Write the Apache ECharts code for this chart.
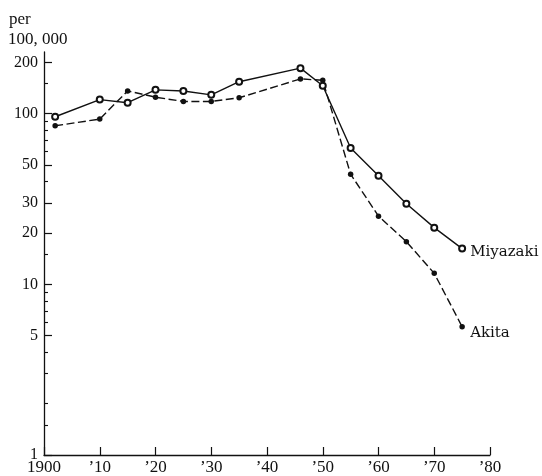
<!DOCTYPE html>
<html>
<head>
<meta charset="utf-8">
<script src="https://cdn.jsdelivr.net/npm/echarts@6/dist/echarts.min.js"></script>
<style>
  html, body { margin: 0; padding: 0; background: #fff; }
  #chart { width: 542px; height: 476px; }
</style>
</head>
<body>
<div id="chart"></div>
<script>
// Survey years (x) and rates per 100,000 for the two prefectures
const years    = [1902, 1910, 1915, 1920, 1925, 1930, 1935, 1946, 1950, 1955, 1960, 1965, 1970, 1975];
const miyazaki = [96, 121, 116, 138, 136, 129, 154, 185, 146, 63, 43.3, 29.7, 21.5, 16.2];
const akita    = [85, 93, 136, 125, 118, 118, 124, 160, 157, 44.2, 25.1, 17.8, 11.6, 5.65];

// Log-axis tick values
const yLabelTicks = [1, 5, 10, 20, 30, 50, 100, 200];
const yMinorTicks = [1.5, 2, 3, 4, 6, 7, 8, 9, 15, 40, 60, 70, 80, 90, 150];

const serif = 'Liberation Serif';
const ink = '#111';

const pairs = (ys) => years.map((x, i) => [x, ys[i]]);

const chart = echarts.init(document.getElementById('chart'), null, { renderer: 'canvas' });

const yBase = {
  type: 'log',
  logBase: 10,
  min: 1,
  max: 230,
  position: 'left',
  splitLine: { show: false },
  minorTick: { show: false },
  minorSplitLine: { show: false }
};

chart.setOption({
  backgroundColor: '#fff',
  animation: false,
  grid: { left: 44, right: 52, top: 52, bottom: 20, containLabel: false },
  xAxis: {
    type: 'value',
    min: 1900,
    max: 1980,
    interval: 10,
    axisLine: { show: true, lineStyle: { color: ink, width: 1.3 } },
    axisTick: { show: true, inside: true, length: 8, lineStyle: { color: ink, width: 1.2 } },
    splitLine: { show: false },
    axisLabel: {
      show: true,
      margin: 4,
      color: ink,
      fontFamily: serif,
      fontSize: 17,
      showMinLabel: true,
      showMaxLabel: true,
      formatter: (v) => v === 1900 ? '1900' : '\u2019' + String(v % 100).padStart(2, '0')
    }
  },
  yAxis: [
    Object.assign({}, yBase, {
      axisLine: { show: true, lineStyle: { color: ink, width: 1.3 } },
      axisTick: { show: true, inside: true, length: 8, customValues: yLabelTicks, lineStyle: { color: ink, width: 1.2 } },
      axisLabel: {
        show: true,
        margin: 6,
        color: ink,
        fontFamily: serif,
        fontSize: 16,
        customValues: yLabelTicks
      }
    }),
    Object.assign({}, yBase, {
      axisLine: { show: false },
      axisTick: { show: true, inside: true, length: 4, customValues: yMinorTicks, lineStyle: { color: ink, width: 1.1 } },
      axisLabel: { show: false }
    })
  ],
  graphic: [
    { type: 'text', left: 9, top: 11, style: { text: 'per', font: '17px ' + serif, fill: ink } },
    { type: 'text', left: 8, top: 31, style: { text: '100, 000', font: '17px ' + serif, fill: ink } }
  ],
  series: [
    {
      name: 'Miyazaki',
      type: 'line',
      yAxisIndex: 0,
      data: pairs(miyazaki),
      symbol: 'emptyCircle',
      symbolSize: 6,
      showAllSymbol: true,
      lineStyle: { color: ink, width: 1.4, type: 'solid' },
      itemStyle: { color: ink, borderColor: ink, borderWidth: 1 },
      endLabel: {
        show: true,
        formatter: '{a}',
        color: ink,
        fontFamily: 'DejaVu Serif',
        fontSize: 15,
        distance: 8,
        offset: [0, 3]
      },
      z: 3
    },
    {
      name: 'Akita',
      type: 'line',
      yAxisIndex: 0,
      data: pairs(akita),
      symbol: 'circle',
      symbolSize: 5.5,
      showAllSymbol: true,
      lineStyle: { color: ink, width: 1.4, type: [8, 3.5] },
      itemStyle: { color: ink },
      endLabel: {
        show: true,
        formatter: '{a}',
        color: ink,
        fontFamily: 'DejaVu Serif',
        fontSize: 15,
        distance: 8,
        offset: [0, 6]
      },
      z: 2
    }
  ]
});
</script>
</body>
</html>
